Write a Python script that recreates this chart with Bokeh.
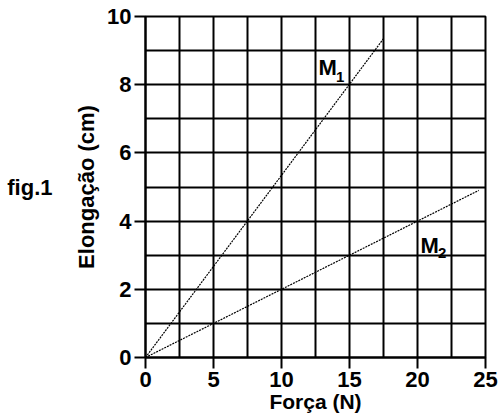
from bokeh.plotting import figure
from bokeh.models import Range1d, FixedTicker, Label, LinearAxis
from bokeh.embed import file_html
from bokeh.resources import INLINE

# data
force_m1 = [0, 17.5]
elong_m1 = [0, 9.35]
force_m2 = [0, 24.5]
elong_m2 = [0, 4.9]
x_ticks = [0, 5, 10, 15, 20, 25]
y_ticks = [0, 2, 4, 6, 8, 10]
x_grid = [0, 2.5, 5, 7.5, 10, 12.5, 15, 17.5, 20, 22.5, 25]
y_grid = [0, 1, 2, 3, 4, 5, 6, 7, 8, 9, 10]

FONT = "Liberation Sans"

p = figure(width=501, height=419, output_backend="svg", toolbar_location=None,
           x_range=Range1d(0, 25), y_range=Range1d(0, 10),
           min_border_left=145, min_border_right=16, min_border_top=16, min_border_bottom=62)
p.background_fill_color = "white"
p.border_fill_color = "white"
p.outline_line_color = "black"
p.outline_line_width = 2

for ax, ticks in ((p.xaxis, x_ticks), (p.yaxis, y_ticks)):
    ax.ticker = FixedTicker(ticks=ticks)
    ax.axis_line_width = 2
    ax.axis_line_color = "black"
    ax.major_tick_line_width = 2
    ax.major_tick_line_color = "black"
    ax.major_tick_out = 11
    ax.major_tick_in = 0
    ax.minor_tick_line_color = None
    ax.major_label_text_font = FONT
    ax.major_label_text_font_style = "bold"
    ax.major_label_text_font_size = "22px"
    ax.major_label_text_color = "black"
    ax.axis_label_text_font = FONT
    ax.axis_label_text_font_style = "bold"
    ax.axis_label_text_font_size = "22px"
    ax.axis_label_text_color = "black"

p.xaxis.major_label_standoff = 3
p.yaxis.major_label_standoff = 3
p.yaxis.axis_label = "Elongação (cm)"
p.yaxis.axis_label_standoff = 5
p.xaxis.axis_label = "Força (N)"
p.xaxis.axis_label_standoff = 0
p.xaxis.axis_label_text_font_size = "21px"

# extra, tick-less axis carrying the "fig.1" caption
fig_axis = LinearAxis(ticker=FixedTicker(ticks=[]), axis_label="fig.1",
                      axis_label_orientation="horizontal", axis_label_standoff=19,
                      axis_line_color=None, major_tick_line_color=None,
                      minor_tick_line_color=None, major_label_text_font_size="0px",
                      axis_label_text_font=FONT, axis_label_text_font_style="bold",
                      axis_label_text_font_size="22px", axis_label_text_color="black")
p.add_layout(fig_axis, "left")

p.xgrid.ticker = FixedTicker(ticks=x_grid)
p.ygrid.ticker = FixedTicker(ticks=y_grid)
for g in (p.xgrid, p.ygrid):
    g.grid_line_color = "black"
    g.grid_line_width = 2
    g.grid_line_alpha = 1.0

p.line(force_m1, elong_m1, line_color="black", line_width=1.2, line_dash="2 1")
p.line(force_m2, elong_m2, line_color="black", line_width=1.2, line_dash="2 1")

def lab(x, y, text, size):
    p.add_layout(Label(x=x, y=y, text=text, text_font=FONT, text_font_style="bold",
                       text_font_size=size, text_color="black", text_align="left",
                       text_baseline="alphabetic"))

lab(12.72, 8.5, "M", "22px")
lab(14.0, 8.24, "1", "15px")
lab(20.22, 3.28, "M", "22px")
lab(21.5, 3.05, "2", "15px")

open("out.html", "w").write(file_html(p, INLINE))
